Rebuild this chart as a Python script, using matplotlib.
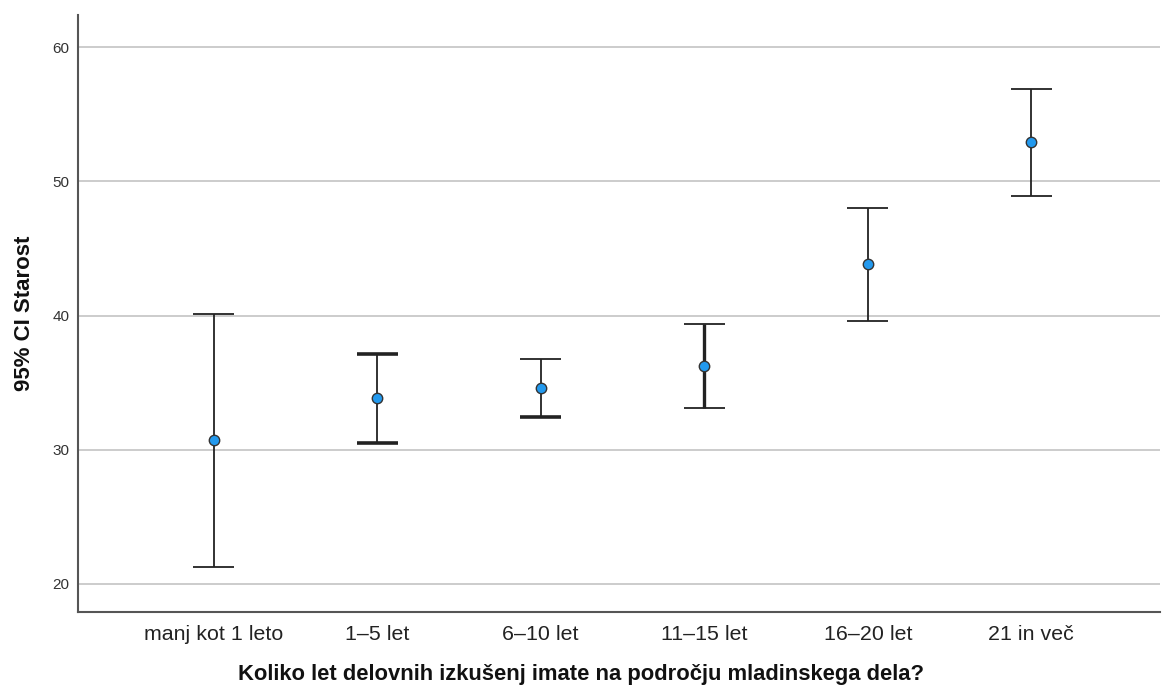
import matplotlib
matplotlib.use("Agg")
from matplotlib import pyplot as plt

plt.rcParams['font.family'] = ['Liberation Sans', 'DejaVu Sans']

categories = ["manj kot 1 leto", "1–5 let", "6–10 let", "11–15 let", "16–20 let", "21 in več"]
means = [30.7, 33.85, 34.6, 36.25, 43.85, 52.9]
lower = [21.25, 30.5, 32.4, 33.1, 39.6, 48.9]
upper = [40.1, 37.15, 36.75, 39.4, 48.05, 56.85]

# some segments look heavier in the original render
stem_lw = [1.3, 1.3, 1.3, 2.4, 1.3, 1.3]
low_cap_lw = [1.3, 2.6, 2.6, 1.3, 1.3, 1.3]
up_cap_lw = [1.3, 2.6, 1.3, 1.3, 1.3, 1.3]

fig = plt.figure(figsize=(11.62, 6.91), dpi=100)
ax = fig.add_axes([0.067, 0.1143, 0.931, 0.864])

x = list(range(len(categories)))
cap = 0.125
ax.vlines(x, lower, upper, colors='#222222', linewidths=stem_lw, zorder=3)
ax.hlines(lower, [i - cap for i in x], [i + cap for i in x], colors='#222222', linewidths=low_cap_lw, zorder=3)
ax.hlines(upper, [i - cap for i in x], [i + cap for i in x], colors='#222222', linewidths=up_cap_lw, zorder=3)
ax.plot(x, means, linestyle='none', marker='o', markersize=7.5, markerfacecolor='#2299ee',
        markeredgecolor='#333333', markeredgewidth=1.0, zorder=4)

ax.set_xlim(-0.83, 5.785)
ax.set_ylim(17.9, 62.4)
ax.set_yticks([20, 30, 40, 50, 60])
ax.set_xticks(x)
ax.set_xticklabels(categories, fontsize=15.4, color='#222222')
ax.tick_params(axis='y', labelsize=11, length=0, pad=6, labelcolor='#333333')
ax.tick_params(axis='x', length=0, pad=9)

ax.grid(True, axis='y', color='#c8c8c8', linewidth=1.3)
ax.set_axisbelow(True)
for s in ['top', 'right']:
    ax.spines[s].set_visible(False)
for s in ['left', 'bottom']:
    ax.spines[s].set_color('#555555')
    ax.spines[s].set_linewidth(1.5)

ax.set_xlabel("Koliko let delovnih izkušenj imate na področju mladinskega dela?",
              fontsize=15.8, fontweight='bold', color='#111111')
ax.xaxis.set_label_coords(0.465, -0.087)
ax.set_ylabel("95% CI Starost", fontsize=16, fontweight='bold', color='#111111')
ax.yaxis.set_label_coords(-0.04, 0.5)

fig.savefig("out.png", dpi=100)
